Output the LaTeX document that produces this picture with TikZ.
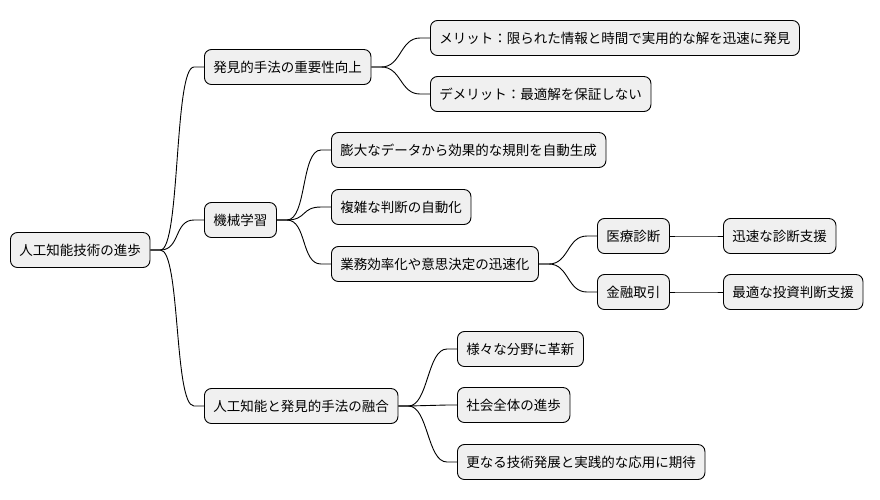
\documentclass[tikz,border=0pt]{standalone}
\usepackage{fontspec}
\setmainfont{Noto Sans CJK JP}
\begin{document}
\begin{tikzpicture}[x=1pt,y=-1pt,
  box/.style={draw=black,fill=black!6,rounded corners=7pt,line width=0.9pt,anchor=west,minimum height=35pt,inner xsep=9pt,font=\fontsize{13.5}{15}\selectfont},
  con/.style={line width=0.9pt}]
\useasboundingbox (0,0) rectangle (880,499);
\node[box] (r) at (10,250) {人工知能技術の進歩};
\node[box] (a) at (204,67) {発見的手法の重要性向上};
\node[box] (b) at (204,220) {機械学習};
\node[box] (c) at (204,406) {人工知能と発見的手法の融合};
\node[box] (a1) at (430,38) {メリット：限られた情報と時間で実用的な解を迅速に発見};
\node[box] (a2) at (430,94) {デメリット：最適解を保証しない};
\node[box] (b1) at (331,150) {膨大なデータから効果的な規則を自動生成};
\node[box] (b2) at (331,207) {複雑な判断の自動化};
\node[box] (b3) at (331,264) {業務効率化や意思決定の迅速化};
\node[box] (m1) at (597,236) {医療診断};
\node[box] (m2) at (597,292) {金融取引};
\node[box] (n1) at (723,236) {迅速な診断支援};
\node[box] (n2) at (723,292) {最適な投資判断支援};
\node[box] (c1) at (457,349) {様々な分野に革新};
\node[box] (c2) at (457,405) {社会全体の進歩};
\node[box] (c3) at (457,462) {更なる技術発展と実践的な応用に期待};
\foreach \p/\q in {r/a,r/b,r/c,a/a1,a/a2,b/b1,b/b2,b/b3,b3/m1,b3/m2,m1/n1,m2/n2,c/c1,c/c2,c/c3}
  \draw[con] (\p.east) -- ++(10,0) .. controls +(20,0) and +(-20,0) .. ([xshift=-10pt]\q.west) -- (\q.west);
\end{tikzpicture}
\end{document}
